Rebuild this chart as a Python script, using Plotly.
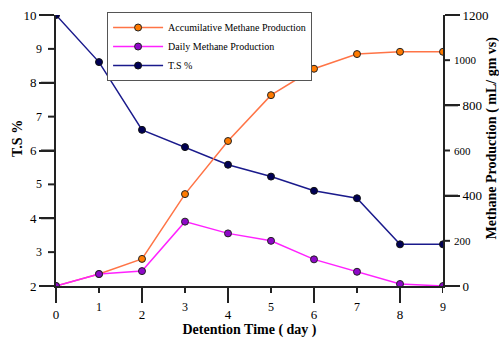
import plotly.graph_objects as go

days = [0, 1, 2, 3, 4, 5, 6, 7, 8, 9]
accum_methane = [0, 53, 120, 407, 642, 845, 962, 1027, 1037, 1037]
daily_methane = [0, 53, 66, 285, 233, 200, 118, 63, 9, 0]
ts_percent = [10.0, 8.61, 6.61, 6.10, 5.58, 5.23, 4.81, 4.59, 3.23, 3.23]

x_major = [0, 2, 4, 6, 8]
x_minor = [1, 3, 5, 7, 9]
yl_major = [2, 4, 6, 8, 10]
yl_minor = [3, 5, 7, 9]
yr_major = [0, 400, 800, 1200]
yr_minor = [200, 600, 1000]

FONT = "Liberation Serif"
AX = "#222222"
W, H = 499, 339
ML, MR, MT, MB = 56, 56, 15, 53
PW, PH = W - ML - MR, H - MT - MB
LONG, SHORT = 15, 7

fig = go.Figure()
fig.add_trace(go.Scatter(
    x=days, y=accum_methane, name="Accumilative Methane Production",
    mode="lines+markers", yaxis="y2",
    line=dict(color="#ff7446", width=1.5),
    marker=dict(color="#ff7a00", size=7, line=dict(color="#222222", width=1))))
fig.add_trace(go.Scatter(
    x=days, y=daily_methane, name="Daily Methane Production",
    mode="lines+markers", yaxis="y2",
    line=dict(color="#ff22ff", width=1.5),
    marker=dict(color="#8e08c8", size=7, line=dict(color="#222222", width=1))))
fig.add_trace(go.Scatter(
    x=days, y=ts_percent, name="T.S %",
    mode="lines+markers",
    line=dict(color="#1a1a8c", width=1.5),
    marker=dict(color="#000055", size=7, line=dict(color="#111111", width=1))))

annotations = [
    dict(text="<b>T.S %</b>", textangle=-90, xref="paper", yref="paper",
         x=-0.101, y=0.546, xanchor="center", yanchor="middle", showarrow=False,
         font=dict(family=FONT, size=14, color="black")),
    dict(text="<b>Methane Production ( mL/ gm vs)</b>", textangle=-90,
         xref="paper", yref="paper", x=1.1275, y=0.546, xanchor="center",
         yanchor="middle", showarrow=False,
         font=dict(family=FONT, size=14, color="black")),
]
# labels of the short (odd) ticks, placed through the axes' own scales
for v in x_minor:
    annotations.append(dict(text=str(v), xref="x", yref="paper", x=v, y=0,
                            xanchor="center", yanchor="top", yshift=-12,
                            showarrow=False,
                            font=dict(family=FONT, size=12, color="black")))
for v in yl_minor:
    annotations.append(dict(text=str(v), xref="paper", yref="y", x=0, y=v,
                            xanchor="right", yanchor="middle", xshift=-12,
                            showarrow=False,
                            font=dict(family=FONT, size=12, color="black")))
for v in yr_minor:
    annotations.append(dict(text=str(v), xref="paper", yref="y2", x=1, y=v,
                            xanchor="left", yanchor="middle", xshift=9,
                            showarrow=False,
                            font=dict(family=FONT, size=11, color="black")))

# tick marks drawn as shapes at the tick values (long = labelled, short = odd)
shapes = []
tick_line = dict(color=AX, width=2)
for vals, ln in ((x_major, LONG), (x_minor, SHORT)):
    for v in vals:
        shapes.append(dict(type="line", xref="x", yref="paper", x0=v, x1=v,
                           y0=0, y1=-ln / PH, line=tick_line, layer="above"))
for vals, ln in ((yl_major, LONG), (yl_minor, SHORT + 1)):
    for v in vals:
        shapes.append(dict(type="line", xref="paper", yref="y", y0=v, y1=v,
                           x0=0, x1=-ln / PW, line=tick_line, layer="above"))
for vals, ln in ((yr_major, LONG), (yr_minor, SHORT)):
    for v in vals:
        shapes.append(dict(type="line", xref="paper", yref="y2", y0=v, y1=v,
                           x0=1, x1=1 + ln / PW, line=tick_line, layer="above"))

fig.update_layout(
    width=W, height=H,
    margin=dict(l=ML, r=MR, t=MT, b=MB),
    plot_bgcolor="white",
    font=dict(family=FONT, size=13, color="black"),
    showlegend=True,
    legend=dict(x=0.132, y=1.011, xanchor="left", yanchor="top",
                bgcolor="white", bordercolor="#555555", borderwidth=1,
                font=dict(family=FONT, size=10, color="black"),
                itemwidth=50, tracegroupgap=0),
    xaxis=dict(range=[0, 9], tickmode="array", tickvals=x_major, ticks="outside",
               ticklen=LONG, tickwidth=2, tickcolor=AX, showline=True, linewidth=2,
               linecolor=AX, automargin=False, showgrid=False, zeroline=False,
               title=dict(text="<b>Detention Time ( day )</b>",
                          font=dict(family=FONT, size=14, color="black"), standoff=4)),
    yaxis=dict(range=[2, 10], tickmode="array", tickvals=yl_major, ticks="outside",
               ticklen=LONG, tickwidth=2, tickcolor=AX, showline=True, linewidth=2,
               linecolor=AX, automargin=False, showgrid=False, zeroline=False),
    yaxis2=dict(range=[0, 1200], overlaying="y", side="right", tickmode="array",
                tickvals=yr_major, ticks="outside", ticklen=LONG, tickwidth=2,
                tickcolor=AX, showline=True, linewidth=2, linecolor=AX,
                automargin=False, showgrid=False, zeroline=False),
    annotations=annotations,
    shapes=shapes,
)

fig.write_html("out.html")
